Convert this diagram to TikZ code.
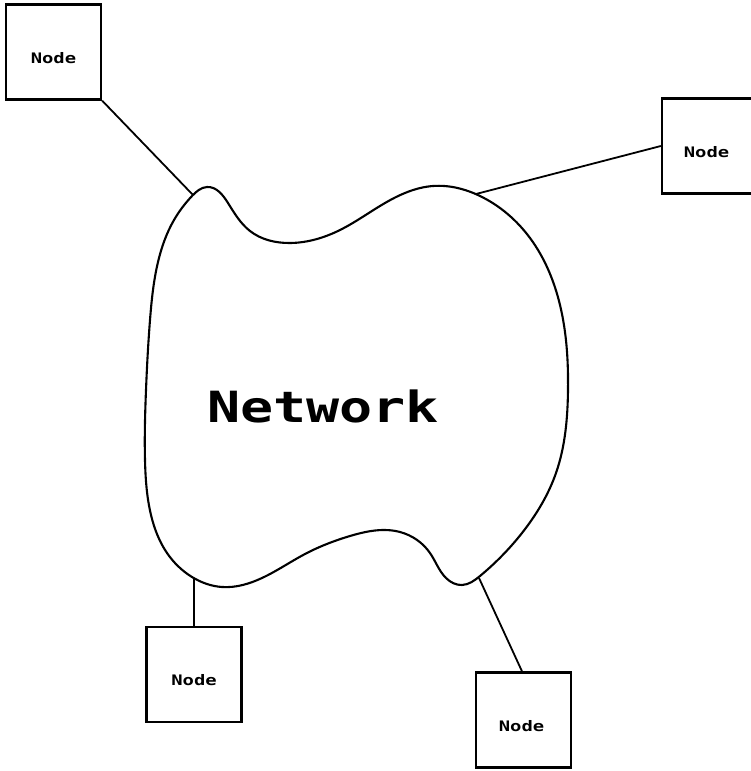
\documentclass[tikz,border=0pt]{standalone}
\usepackage{fontspec}
\usetikzlibrary{hobby}
\newfontfamily\monofont{DejaVu Sans Mono}
\begin{document}
\begin{tikzpicture}[x=1pt,y=-1pt,
  nodebox/.style={draw=black,line width=2.3pt,minimum width=95pt,minimum height=95pt,inner sep=0pt},
  nodetext/.style={font=\monofont\bfseries\fontsize{14.5}{16}\selectfont,inner sep=0pt},
  link/.style={draw=black,line width=1.8pt},
  cloud/.style={draw=black,line width=2.1pt}]
\useasboundingbox (0,0) rectangle (751,771);
\clip (0,0) rectangle (751,771);
\fill[white] (0,0) rectangle (751,771);

% cloud
\draw[cloud] plot[closed hobby] coordinates {
 (207,187) (228,203) (250,231) (290,243) (340,230) (385,203) (433,186)
 (480,196) (530,238) (560,305) (568,390) (556,473) (522,533) (480,576)
 (462,585) (446,578) (430,553) (400,532)
 (350,536) (305,554) (262,578) (222,587) (192,577) (167,553) (151,515)
 (145,460) (146,390) (150,320) (158,262) (174,220) (192,196)};

\coordinate (c1) at (193,195);
\coordinate (c2) at (476,194);
\coordinate (c3) at (194,579);
\coordinate (c4) at (479,578);

\node[font=\monofont\bfseries\fontsize{43}{48}\selectfont,inner sep=0pt,anchor=base] (net) at (323,422) {\scalebox{1.28}[1]{Network}};

% boxes
\node[nodebox] (n1) at (53.5,52) {};
\node[nodebox] (n2) at (709.5,146) {};
\node[nodebox] (n3) at (194,674.5) {};
\node[nodebox] (n4) at (523.5,720) {};

\node[nodetext] (t1) at ([yshift=-6pt]n1.center) {\scalebox{1.3}[1]{Node}};
\node[nodetext] (t2) at ([yshift=-6pt,xshift=-3pt]n2.center) {\scalebox{1.3}[1]{Node}};
\node[nodetext] (t3) at ([yshift=-6pt]n3.center) {\scalebox{1.3}[1]{Node}};
\node[nodetext] (t4) at ([yshift=-6pt,xshift=-2pt]n4.center) {\scalebox{1.3}[1]{Node}};

% links
\draw[link] (n1.south east) -- (c1);
\draw[link] (n2.west) -- (c2);
\draw[link] (c3) -- (n3.north);
\draw[link] (c4) -- ([xshift=-1.5pt]n4.north);
\end{tikzpicture}
\end{document}
